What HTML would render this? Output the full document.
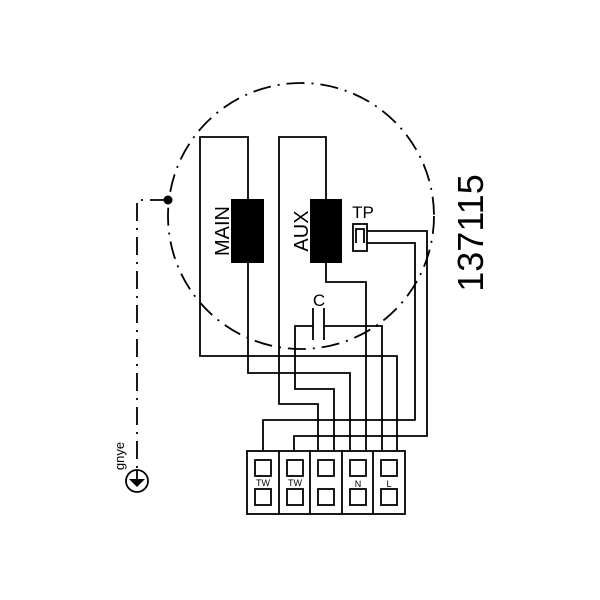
<!DOCTYPE html>
<html><head><style>body{margin:0;background:#fff}svg{display:block}</style></head>
<body>
<svg width="600" height="600" viewBox="0 0 600 600" xmlns="http://www.w3.org/2000/svg" font-family="Liberation Sans, sans-serif">
<rect width="600" height="600" fill="#fff"/>
<g fill="none" stroke="#000" stroke-width="1.8">
<circle cx="301" cy="216" r="133" stroke-dasharray="18,7,2,7"/>
<path d="M168,200 H137 V472" stroke-dasharray="18,7,2,7"/>
<path d="M248,199 V137 H200 V356 H397 V451"/>
<path d="M248,263 V373 H350 V451"/>
<path d="M326,199 V137 H279 V404 H318 V451"/>
<path d="M326,263 V282 H366 V451"/>
<rect x="353" y="224" width="14" height="27"/>
<path d="M356,243 V229 H364 V243"/>
<path d="M367,231 H427 V436 H294 V451"/>
<path d="M367,243 H415 V420 H263 V451"/>
<path d="M313,308 V340 M324,308 V340"/>
<path d="M313,326 H295 V389 H334 V451"/>
<path d="M324,326 H382 V451"/>
<rect x="247" y="451" width="158" height="63"/>
<path d="M279,451 V514 M310,451 V514 M342,451 V514 M373,451 V514"/>
<rect x="255" y="460" width="16" height="16"/><rect x="255" y="489" width="16" height="16"/>
<rect x="287" y="460" width="16" height="16"/><rect x="287" y="489" width="16" height="16"/>
<rect x="318" y="460" width="16" height="16"/><rect x="318" y="489" width="16" height="16"/>
<rect x="350" y="460" width="16" height="16"/><rect x="350" y="489" width="16" height="16"/>
<rect x="381" y="460" width="16" height="16"/><rect x="381" y="489" width="16" height="16"/>
<circle cx="137" cy="481" r="11"/>
</g>
<rect x="231" y="199" width="33" height="64" fill="#000"/>
<rect x="310" y="199" width="32" height="64" fill="#000"/>
<circle cx="168" cy="200" r="4.5" fill="#000"/>
<path d="M129,479 H145 L137,487 Z" fill="#000"/>
<line x1="137" y1="470" x2="137" y2="481" stroke="#000" stroke-width="1.8"/>
<g fill="#000">
<text transform="translate(229,231) rotate(-90)" font-size="20" text-anchor="middle">MAIN</text>
<text transform="translate(308,231) rotate(-90)" font-size="20" text-anchor="middle">AUX</text>
<text x="363" y="218" font-size="17" text-anchor="middle">TP</text>
<text x="319" y="306" font-size="17" text-anchor="middle">C</text>
<text transform="translate(483,233) rotate(-90)" font-size="36" text-anchor="middle">137115</text>
<text transform="translate(124,456) rotate(-90)" font-size="13" text-anchor="middle">gnye</text>
<text x="263" y="486" font-size="9" text-anchor="middle">TW</text>
<text x="295" y="486" font-size="9" text-anchor="middle">TW</text>
<text x="358" y="487" font-size="9" text-anchor="middle">N</text>
<text x="389" y="487" font-size="9" text-anchor="middle">L</text>
</g>
</svg>
</body></html>
